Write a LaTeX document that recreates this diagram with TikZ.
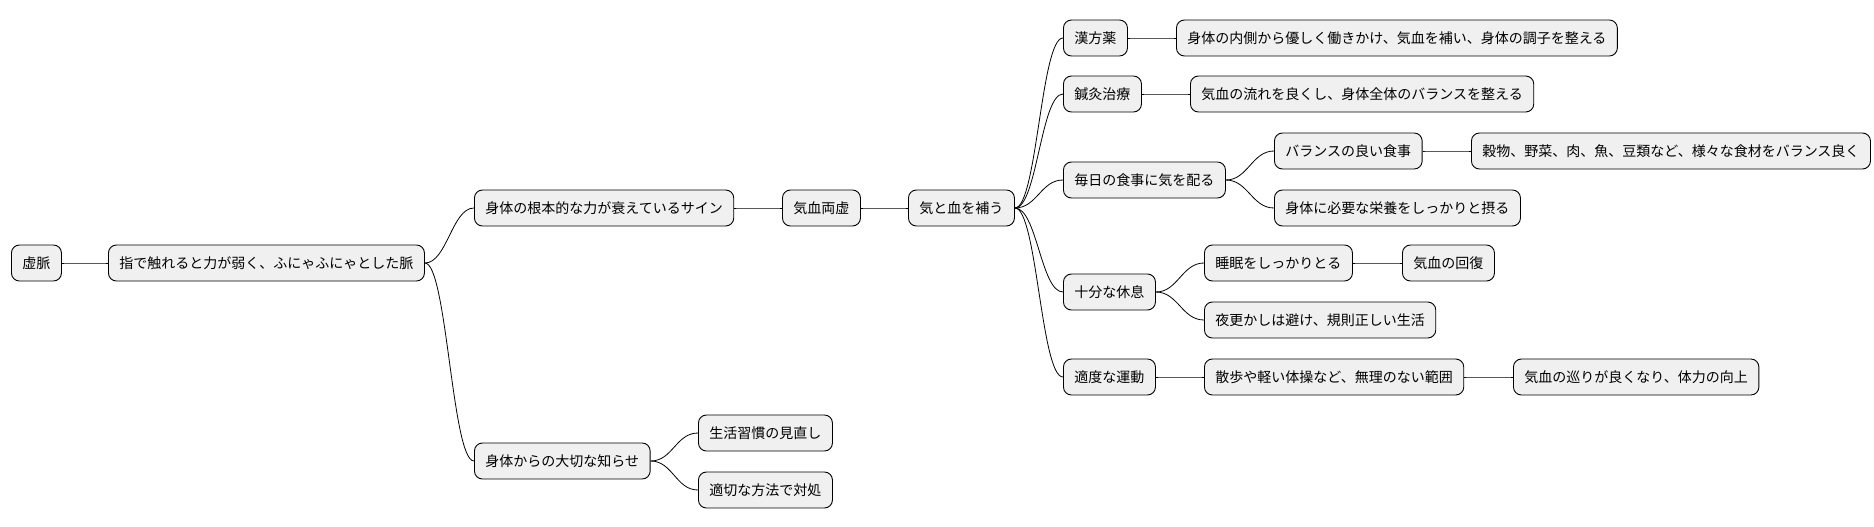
\documentclass[tikz,border=0pt]{standalone}
\usepackage{fontspec}
\setmainfont{Noto Sans CJK JP}
\usetikzlibrary{calc, positioning}
\tikzset{box/.style={draw, fill=gray!12, rounded corners=8pt, line width=0.9pt, anchor=west, minimum height=36pt, inner xsep=11pt, font=\fontsize{14}{16}\selectfont}}
\begin{document}
\begin{tikzpicture}[x=1pt, y=-1pt]
    \useasboundingbox (0,0) rectangle (1874,527);
    \node[box] (k) at (11,263) {虚脈};
    \node[box] (m) at (108,263) {指で触れると力が弱く、ふにゃふにゃとした脈};
    \node[box] (s1) at (474,208) {身体の根本的な力が衰えているサイン};
    \node[box] (s2) at (474,461) {身体からの大切な知らせ};
    \node[box] (q) at (782,208) {気血両虚};
    \node[box] (h) at (908,208) {気と血を補う};
    \node[box] (c1) at (1063,38) {漢方薬};
    \node[box] (c2) at (1063,94) {鍼灸治療};
    \node[box] (c3) at (1063,180) {毎日の食事に気を配る};
    \node[box] (c4) at (1063,292) {十分な休息};
    \node[box] (c5) at (1063,377) {適度な運動};
    \node[box] (d1) at (1176,38) {身体の内側から優しく働きかけ、気血を補い、身体の調子を整える};
    \node[box] (d2) at (1190,94) {気血の流れを良くし、身体全体のバランスを整える};
    \node[box] (e1) at (1274,151) {バランスの良い食事};
    \node[box] (e2) at (1274,208) {身体に必要な栄養をしっかりと摂る};
    \node[box] (f1) at (1471,151) {穀物、野菜、肉、魚、豆類など、様々な食材をバランス良く};
    \node[box] (g1) at (1204,263) {睡眠をしっかりとる};
    \node[box] (g2) at (1204,320) {夜更かしは避け、規則正しい生活};
    \node[box] (g3) at (1402,263) {気血の回復};
    \node[box] (r1) at (1204,377) {散歩や軽い体操など、無理のない範囲};
    \node[box] (r2) at (1513,377) {気血の巡りが良くなり、体力の向上};
    \node[box] (t1) at (698,433) {生活習慣の見直し};
    \node[box] (t2) at (698,490) {適切な方法で対処};
    \foreach \a/\b in {k/m, m/s1, m/s2, s1/q, q/h, h/c1, h/c2, h/c3, h/c4, h/c5,
        c1/d1, c2/d2, c3/e1, c3/e2, e1/f1, c4/g1, c4/g2, g1/g3, c5/r1, r1/r2, s2/t1, s2/t2}{
        \draw[line width=0.8pt] (\a.east) .. controls ($(\a.east)+(22,0)$) and ($(\b.west)+(-22,0)$) .. (\b.west);
    }
\end{tikzpicture}
\end{document}
